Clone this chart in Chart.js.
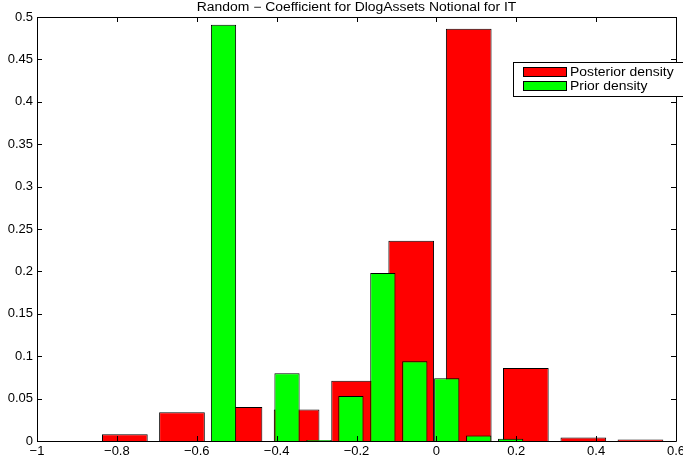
<!DOCTYPE html>
<html>
<head>
<meta charset="utf-8">
<script src="https://cdn.jsdelivr.net/npm/chart.js@4/dist/chart.umd.min.js"></script>
<style>
  html, body { margin: 0; padding: 0; background: #fff; }
  #wrap { width: 683px; height: 459px; position: relative; }
</style>
</head>
<body>
<div id="wrap"><canvas id="histChart"></canvas></div>
<script>
// Histogram of posterior vs prior draws

const chartTitle = 'Random \u2212 Coefficient for DlogAssets Notional for IT';

const posteriorCenters = [-0.780, -0.637, -0.493, -0.350, -0.206, -0.063, 0.081, 0.224, 0.368, 0.511];
const posteriorDensity = [0.008, 0.034, 0.040, 0.037, 0.071, 0.236, 0.486, 0.086, 0.004, 0.0017];

const priorCenters = [-0.533, -0.453, -0.374, -0.294, -0.214, -0.134, -0.054, 0.026, 0.106, 0.186];
const priorDensity = [0.491, 0, 0.080, 0.0012, 0.053, 0.198, 0.094, 0.074, 0.0064, 0.0028];

const xTicks = [-1, -0.8, -0.6, -0.4, -0.2, 0, 0.2, 0.4, 0.6];
const yTicks = [0, 0.05, 0.1, 0.15, 0.2, 0.25, 0.3, 0.35, 0.4, 0.45, 0.5];

const legendLabels = ['Posterior density', 'Prior density'];

const COLORS = {
    posterior: '#ff0000',
    prior: '#00ff00',
    edge: '#000000',
    text: '#000000'
};

const FONT = '"Liberation Sans", Arial, Helvetica, sans-serif';
const STRETCH = 1.16; // the source figure text is a bit wide

function fmt(v) {
    return String(+v.toFixed(2)).replace('-', '\u2212');
}

function toPoints(xs, ys) {
    return xs.map((x, i) => ({ x: x, y: ys[i] }));
}

function wideText(ctx, text, x, y, align) {
    ctx.save();
    ctx.translate(x, y);
    ctx.scale(STRETCH, 1);
    ctx.textAlign = align;
    ctx.fillText(text, 0, 0);
    ctx.restore();
}

// box, inward ticks, title and legend in the MATLAB style
const matlabFrame = {
    id: 'matlabFrame',
    afterDatasetsDraw(chart) {
        const { ctx, chartArea: a, scales } = chart;
        const tl = 5;
        ctx.save();
        ctx.strokeStyle = '#000';
        ctx.lineWidth = 1;
        ctx.beginPath();
        ctx.rect(Math.round(a.left) + 0.5, Math.round(a.top) + 0.5,
                 Math.round(a.right - a.left), Math.round(a.bottom - a.top));
        xTicks.forEach(v => {
            const px = Math.round(scales.x.getPixelForValue(v)) + 0.5;
            ctx.moveTo(px, a.bottom); ctx.lineTo(px, a.bottom - tl);
            ctx.moveTo(px, a.top); ctx.lineTo(px, a.top + tl);
        });
        yTicks.forEach(v => {
            const py = Math.round(scales.y.getPixelForValue(v)) + 0.5;
            ctx.moveTo(a.left, py); ctx.lineTo(a.left + tl, py);
            ctx.moveTo(a.right, py); ctx.lineTo(a.right - tl, py);
        });
        ctx.stroke();
        ctx.restore();
    },
    afterDraw(chart) {
        const { ctx, chartArea: a } = chart;
        ctx.save();
        // title
        ctx.fillStyle = COLORS.text;
        ctx.font = '12px ' + FONT;
        ctx.textBaseline = 'middle';
        wideText(ctx, chartTitle, (a.left + a.right) / 2, 8, 'center');

        // legend box
        const bx = 513, by = 62, bw = 180, bh = 34;
        ctx.fillStyle = '#fff';
        ctx.fillRect(bx, by, bw, bh);
        ctx.strokeStyle = '#000';
        ctx.lineWidth = 1;
        ctx.strokeRect(bx + 0.5, by + 0.5, bw, bh);
        const swatch = [COLORS.posterior, COLORS.prior];
        legendLabels.forEach((label, i) => {
            const sy = by + 5 + i * 14;
            ctx.fillStyle = swatch[i];
            ctx.fillRect(523, sy, 43, 9);
            ctx.strokeRect(523.5, sy + 0.5, 43, 9);
            ctx.fillStyle = COLORS.text;
            wideText(ctx, label, 570, sy + 5.5, 'left');
        });
        ctx.restore();
    }
};

const ctx = document.getElementById('histChart').getContext('2d');

new Chart(ctx, {
    type: 'bar',
    data: {
        datasets: [
            {
                label: legendLabels[0],
                data: toPoints(posteriorCenters, posteriorDensity),
                xAxisID: 'x',
                backgroundColor: COLORS.posterior,
                borderColor: COLORS.edge,
                borderWidth: 1,
                barPercentage: 0.8,
                categoryPercentage: 1,
                grouped: false,
                order: 1
            },
            {
                label: legendLabels[1],
                data: toPoints(priorCenters, priorDensity),
                xAxisID: 'x2',
                backgroundColor: COLORS.prior,
                borderColor: COLORS.edge,
                borderWidth: 1,
                barPercentage: 0.8,
                categoryPercentage: 1,
                grouped: false,
                order: 0
            }
        ]
    },
    options: {
        responsive: true,
        maintainAspectRatio: false,
        animation: false,
        layout: { padding: { top: 17, right: 7, left: 0, bottom: 0 } },
        plugins: {
            legend: { display: false },
            title: { display: false },
            tooltip: { enabled: false }
        },
        scales: {
            x: {
                type: 'linear',
                min: -1,
                max: 0.6,
                offset: false,
                grid: { display: false, drawTicks: false },
                border: { display: false },
                afterBuildTicks: s => { s.ticks = xTicks.map(v => ({ value: v })); },
                afterFit: s => { s.height = 18; s.paddingLeft = 0; s.paddingRight = 0; },
                ticks: {
                    color: COLORS.text,
                    padding: 3,
                    maxRotation: 0,
                    autoSkip: false,
                    font: { family: FONT, size: 13 },
                    callback: v => fmt(v)
                }
            },
            x2: {
                type: 'linear',
                axis: 'x',
                display: false,
                min: -1,
                max: 0.6,
                offset: false,
                afterBuildTicks: s => { s.ticks = xTicks.map(v => ({ value: v })); }
            },
            y: {
                type: 'linear',
                min: 0,
                max: 0.5,
                grid: { display: false, drawTicks: false },
                border: { display: false },
                afterBuildTicks: s => { s.ticks = yTicks.map(v => ({ value: v })); },
                afterFit: s => { s.width = 37; s.paddingTop = 0; s.paddingBottom = 0; },
                ticks: {
                    color: COLORS.text,
                    padding: 4,
                    autoSkip: false,
                    font: { family: FONT, size: 13 },
                    callback: v => fmt(v)
                }
            }
        }
    },
    plugins: [matlabFrame]
});
</script>
</body>
</html>
